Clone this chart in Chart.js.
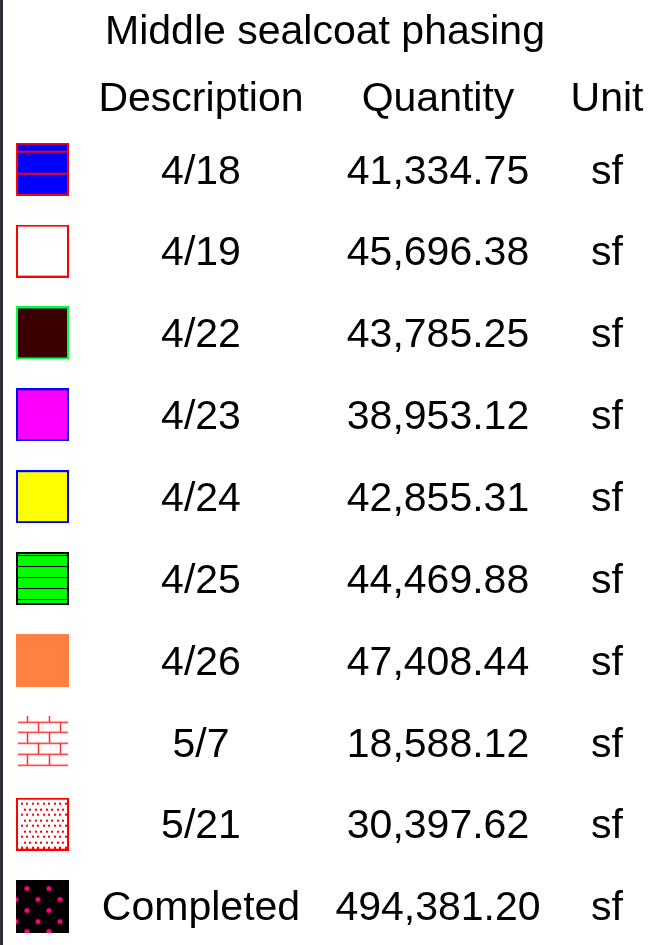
<!DOCTYPE html>
<html>
<head>
<meta charset="UTF-8">
<title>Middle sealcoat phasing</title>
<style>
	html, body { margin: 0; padding: 0; background: #fff; }
	#wrap { position: relative; width: 660px; height: 945px; }
</style>
</head>
<body>
<div id="wrap"><canvas id="legendChart"></canvas></div>
<script src="https://cdn.jsdelivr.net/npm/chart.js"></script>
<script type="text/javascript">
// data
const descriptions = ['4/18', '4/19', '4/22', '4/23', '4/24', '4/25', '4/26', '5/7', '5/21', 'Completed'];
const quantities = [41334.75, 45696.38, 43785.25, 38953.12, 42855.31, 44469.88, 47408.44, 18588.12, 30397.62, 494381.20];
const units = ['sf', 'sf', 'sf', 'sf', 'sf', 'sf', 'sf', 'sf', 'sf', 'sf'];
const headers = ['Description', 'Quantity', 'Unit'];

// column centres (pixels on the x scale)
const colX = [42.5, 201, 438, 607];
const FONT = '41px "Liberation Sans", Arial, sans-serif';

// swatch images used as point styles
function swatch(draw) {
	let c = document.createElement('canvas');
	c.width = 53; c.height = 53;
	draw(c.getContext('2d'), 53, 53);
	return c;
}
function boxed(ctx, w, h, border, fill, bw) {
	ctx.fillStyle = border; ctx.fillRect(0, 0, w, h);
	ctx.fillStyle = fill; ctx.fillRect(bw, bw, w - 2 * bw, h - 2 * bw);
}
const swatches = [
	swatch(function(ctx, w, h) { // 4/18
		boxed(ctx, w, h, '#ff0000', '#0000ff', 2);
		ctx.fillStyle = '#ff0000';
		ctx.fillRect(0, 8, w, 2);
		ctx.fillRect(0, 30, w, 2);
	}),
	swatch(function(ctx, w, h) { boxed(ctx, w, h, '#ff0000', '#ffffff', 2); }),
	swatch(function(ctx, w, h) { boxed(ctx, w, h, '#00ff40', '#3a0000', 2); }),
	swatch(function(ctx, w, h) { boxed(ctx, w, h, '#0000ff', '#ff00ff', 2); }),
	swatch(function(ctx, w, h) { boxed(ctx, w, h, '#0000ff', '#ffff00', 2); }),
	swatch(function(ctx, w, h) { // 4/25
		boxed(ctx, w, h, '#000000', '#00ff00', 2);
		ctx.fillStyle = '#000000';
		[3, 14, 25, 36, 47].forEach(function(y) { ctx.fillRect(0, y, w, 1); });
	}),
	swatch(function(ctx, w, h) { ctx.fillStyle = '#ff8040'; ctx.fillRect(0, 0, w, h); }),
	swatch(function(ctx, w, h) { // 5/7 bricks
		ctx.strokeStyle = '#ff3030';
		ctx.lineWidth = 1.5;
		ctx.beginPath();
		let lines = [6, 16, 27, 38, 49];
		lines.forEach(function(y) { ctx.moveTo(2, y + 0.5); ctx.lineTo(52, y + 0.5); });
		let tops = [0].concat(lines);
		for (let r = 0; r < tops.length - 1; r++) {
			let xs = r % 2 === 0 ? [11, 33] : [22, 44];
			xs.forEach(function(x) { ctx.moveTo(x + 0.5, tops[r]); ctx.lineTo(x + 0.5, tops[r + 1]); });
		}
		ctx.stroke();
	}),
	swatch(function(ctx, w, h) { // 5/21 dots
		boxed(ctx, w, h, '#ff0000', '#ffffff', 2);
		ctx.fillStyle = '#ff0000';
		for (let r = 0, y = 5; y < h - 3; r++, y += 5.5) {
			for (let x = (r % 2 ? 7.5 : 4.8); x < w - 3; x += 5.5) {
				ctx.fillRect(Math.round(x), Math.round(y), 2, 2);
			}
		}
	}),
	swatch(function(ctx, w, h) { // Completed
		ctx.fillStyle = '#000000'; ctx.fillRect(0, 0, w, h);
		ctx.fillStyle = '#ff0080';
		[9, 20, 31, 42, 52].forEach(function(y, r) {
			let xs = r % 2 === 0 ? [11, 33] : [0, 22, 44];
			xs.forEach(function(x) { ctx.beginPath(); ctx.arc(x, y, 2.6, 0, Math.PI * 2); ctx.fill(); });
		});
	})
];

// text plugin: headers and table cells
const tableText = {
	id: 'tableText',
	afterDatasetsDraw(chart) {
		let ctx = chart.ctx;
		let y = chart.scales.y;
		ctx.save();
		ctx.fillStyle = '#000';
		ctx.font = FONT;
		ctx.textAlign = 'center';
		ctx.textBaseline = 'middle';
		let headY = y.getPixelForValue(0) - 70;
		headers.forEach(function(h, i) { ctx.fillText(h, colX[i + 1], headY); });
		descriptions.forEach(function(d, i) {
			let py = y.getPixelForValue(i) + 3;
			ctx.fillText(d, colX[1], py);
			ctx.fillText(quantities[i].toLocaleString('en-US', {minimumFractionDigits: 2, maximumFractionDigits: 2}), colX[2], py);
			ctx.fillText(units[i], colX[3], py);
		});
		// dark left edge
		ctx.fillStyle = '#2b3136';
		ctx.fillRect(0, 0, 3, chart.height);
		ctx.restore();
	}
};

let chart = new Chart(document.getElementById('legendChart'), {
	type: 'scatter',
	data: {
		labels: descriptions,
		datasets: [{
			data: descriptions.map(function(d, i) { return {x: colX[0], y: i}; }),
			pointStyle: swatches,
			pointRadius: 26,
			clip: false
		}]
	},
	options: {
		responsive: true,
		maintainAspectRatio: false,
		animation: false,
		layout: { autoPadding: false, padding: { top: 0, bottom: 39, left: 0, right: 10 } },
		scales: {
			x: { type: 'linear', min: 0, max: 650, display: false },
			y: { type: 'linear', min: 0, max: 9, reverse: true, display: false }
		},
		plugins: {
			legend: { display: false },
			tooltip: { enabled: false },
			title: {
				display: true,
				text: 'Middle sealcoat phasing',
				color: '#000',
				font: { family: '"Liberation Sans", Arial, sans-serif', size: 41, weight: 'normal' },
				padding: { top: 8, bottom: 112 }
			}
		}
	},
	plugins: [tableText]
});
</script>
</body>
</html>
